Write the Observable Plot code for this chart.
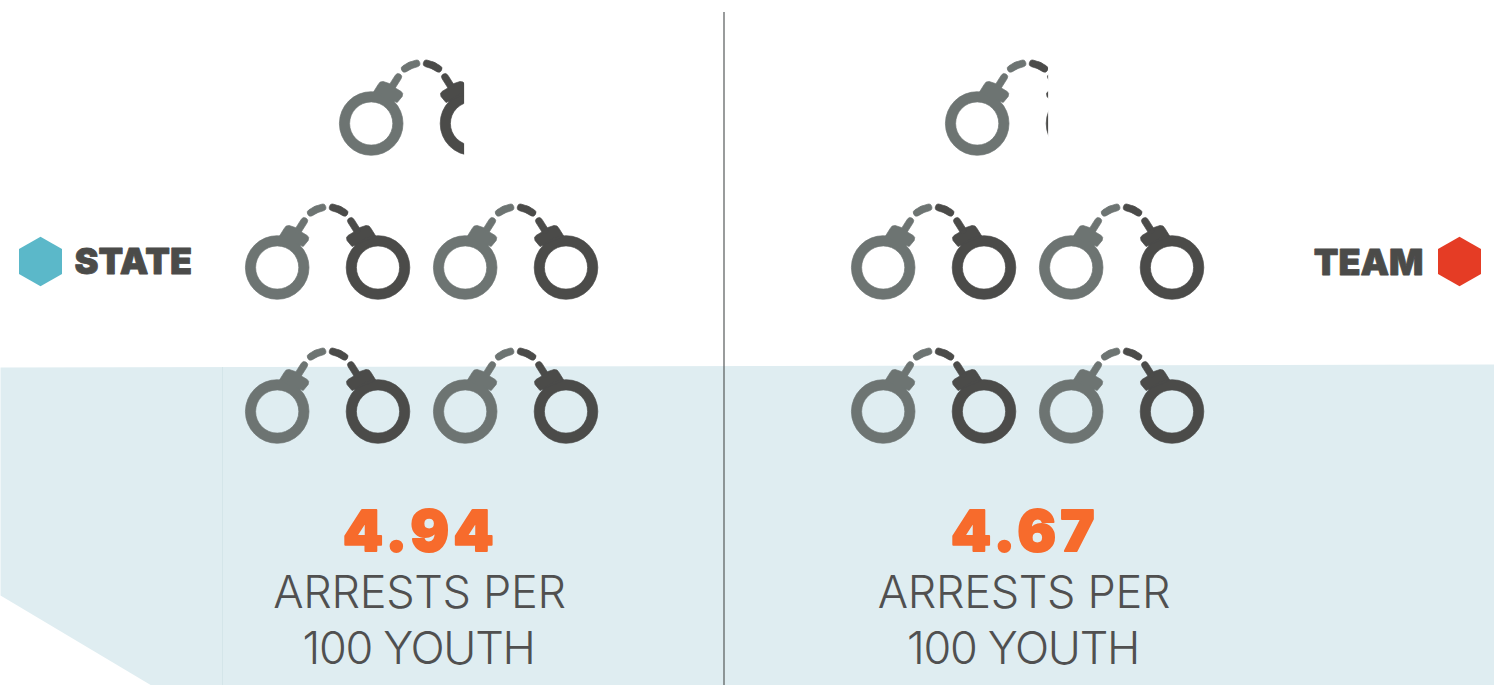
<!DOCTYPE html>
<html>
<head>
<meta charset="utf-8">
<script src="https://cdn.jsdelivr.net/npm/d3@7"></script>
<script src="https://cdn.jsdelivr.net/npm/@observablehq/plot@0.6"></script>
<style>
html,body{margin:0;padding:0;background:#fff;overflow:hidden}
svg{display:block}
</style>
</head>
<body>
<div id="chart"></div>
<script>
// Data
const groups = ["STATE", "TEAM"];
const rates = [4.94, 4.67];
const captionLines = ["ARRESTS PER", "100 YOUTH"];
const keyColors = ["#5BB8C9", "#E53C25"];

// Layout of the pictogram (page pixels)
const panelLeft = [245, 851];
const labelCentre = [419, 1023.5];
const pairPitch = 188, rowPitch = 144, bottomRow = 411, perRow = 2;
const leftOffset = 31.7, rightOffset = 132.5;

const capsule = (c, pts, r) => {
  for (let i = 1; i < pts.length; i++) {
    const [ax, ay] = pts[i - 1], [bx, by] = pts[i];
    const t = Math.atan2(by - ay, bx - ax), h = Math.PI / 2;
    c.moveTo(bx + r * Math.cos(t - h), by + r * Math.sin(t - h));
    c.arc(bx, by, r, t - h, t + h, false);
    c.arc(ax, ay, r, t + h, t + 3 * h, false);
    c.closePath();
  }
};
const cuff = (s) => ({
  draw(c) {
    const R = 31.8, r = 21.6;
    c.moveTo(R, 0); c.arc(0, 0, R, 0, 2 * Math.PI, false); c.closePath();
    c.moveTo(r, 0); c.arc(0, 0, r, 0, -2 * Math.PI, true); c.closePath();
    let body = [[2, -31], [7, -39], [9, -41.5], [12, -42], [18, -40], [25, -35], [30, -32], [31.5, -30], [31, -27], [26, -21]];
    if (s < 0) body = body.map(([x, y]) => [-x, y]).reverse();
    body.forEach(([x, y], i) => (i ? c.lineTo(x, y) : c.moveTo(x, y)));
    c.closePath();
    const m = (p) => p.map(([x, y]) => [s * x, y]);
    capsule(c, m([[21, -37], [27, -46.5]]), 3.4);
    capsule(c, m([[33.5, -54.8], [39, -58], [45.3, -60]]), 3.4);
  }
});

const pairs = [], covers = [], labels = [];
groups.forEach((g, i) => {
  const v = rates[i], whole = Math.floor(v), frac = v - whole;
  for (let k = 0; k < whole; k++) {
    const row = Math.floor(k / perRow), col = k % perRow;
    pairs.push({g, x: panelLeft[i] + col * pairPitch, y: bottomRow - row * rowPitch});
  }
  const topX = panelLeft[i] + pairPitch / 2, topY = bottomRow - Math.ceil(whole / perRow) * rowPitch;
  pairs.push({g, x: topX, y: topY});
  covers.push({x1: topX + 48.5 + 81.5 * frac, x2: topX + 175, y1: topY - 70, y2: topY + 40});
  labels.push({g, v: v.toFixed(2), x: labelCentre[i]});
});

const cuffLeft = cuff(1), cuffRight = cuff(-1);
const spaced = (px) => (index, scales, values, dims, context, next) => {
  const g = next(index, scales, values, dims, context);
  g.style.letterSpacing = px + "px";
  return g;
};

const plot = Plot.plot({
  width: 1494, height: 685,
  margin: 0,
  x: {domain: [0, 1494], range: [0, 1494], axis: null},
  y: {domain: [0, 685], range: [0, 685], axis: null},
  marks: [
    // pale ground
    Plot.line([[0, 367], [1494, 364], [1494, 685], [151, 685], [0, 595], [0, 367]], {fill: "#DFEDF1", stroke: null}),
    Plot.ruleX([222], {y1: 367, y2: 685, stroke: "#D4E5E9", strokeWidth: 1}),
    // divider
    Plot.ruleX([723.5], {y1: 12, y2: 685, stroke: "#55595A", strokeWidth: 1.2}),
    // handcuffs
    Plot.dot(pairs, {x: (d) => d.x + leftOffset, y: "y", r: 32, symbol: cuffLeft, fill: "#6D7472", stroke: "#6D7472", strokeWidth: 0.7, strokeLinejoin: "round"}),
    Plot.dot(pairs, {x: (d) => d.x + rightOffset, y: "y", r: 32, symbol: cuffRight, fill: "#4B4B49", stroke: "#4B4B49", strokeWidth: 0.7, strokeLinejoin: "round"}),
    Plot.rect(covers, {x1: "x1", x2: "x2", y1: "y1", y2: "y2", fill: "#fff"}),
    // keys
    Plot.dot([{x: 40, c: keyColors[0]}, {x: 1459, c: keyColors[1]}], {x: "x", y: () => 261, r: 21.5, symbol: "hexagon", fill: "c", stroke: null}),
    Plot.text([groups[0]], {x: () => 74, y: () => 262, text: (d) => d, textAnchor: "start", fontFamily: "Inter", fontWeight: 900, fontSize: 36, fill: "#4B4B49", stroke: "#4B4B49", strokeWidth: 0.8}),
    Plot.text([groups[1]], {x: () => 1423, y: () => 263, text: (d) => d, textAnchor: "end", fontFamily: "Inter", fontWeight: 900, fontSize: 36, fill: "#4B4B49", stroke: "#4B4B49", strokeWidth: 0.8}),
    // values and captions
    Plot.text(labels, {x: (d) => d.x + 1, y: () => 532.5, text: "v", fontFamily: "Inter", fontWeight: 900, fontSize: 57, fill: "#F76B2C", stroke: "#F76B2C", strokeWidth: 2, render: spaced(4.5)}),
    Plot.text(labels, {x: "x", y: () => 593, text: () => captionLines[0], fontFamily: "Inter", fontWeight: 300, fontSize: 45, fill: "#505050", render: spaced(-0.3)}),
    Plot.text(labels, {x: (d) => d.x - 1, y: () => 649, text: () => captionLines[1], fontFamily: "Inter", fontWeight: 300, fontSize: 45, fill: "#505050", render: spaced(-1.3)})
  ]
});
document.getElementById("chart").appendChild(plot);
</script>
</body>
</html>
